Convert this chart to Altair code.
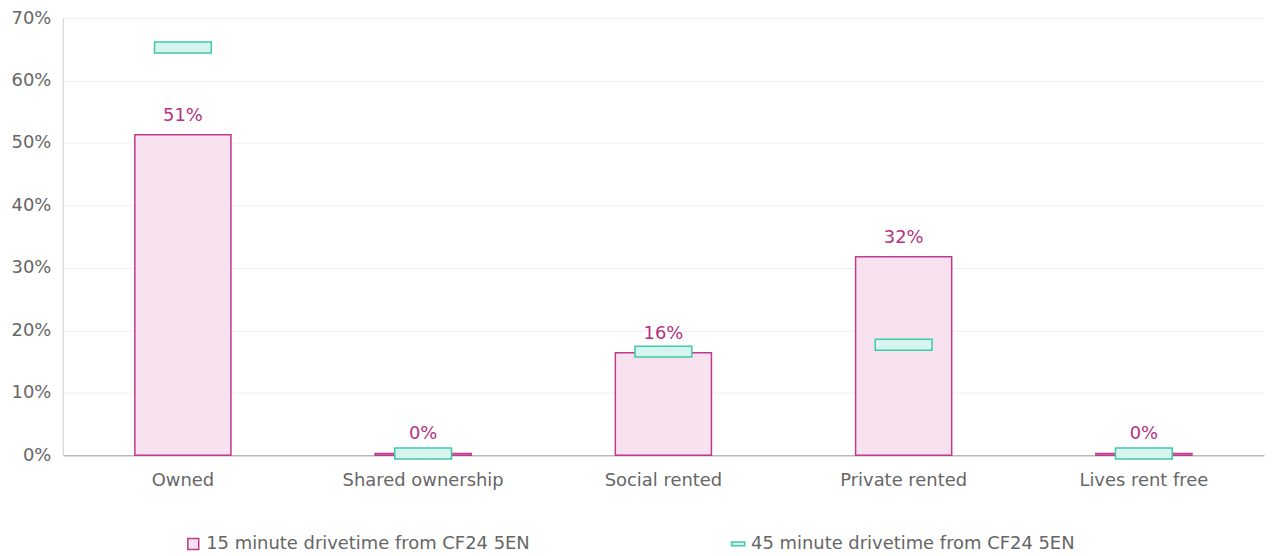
import altair as alt
import pandas as pd

categories = ["Owned", "Shared ownership", "Social rented", "Private rented", "Lives rent free"]
series_names = ["15 minute drivetime from CF24 5EN", "45 minute drivetime from CF24 5EN"]
drive15 = [0.513, 0.003, 0.164, 0.318, 0.003]
drive45 = [0.653, 0.003, 0.166, 0.177, 0.003]

FONT = "DejaVu Sans"
GREY = "#666666"
MAG = "#C0398C"
MAG_TXT = "#B5327F"
MAG_FILL = "#F8E2EF"
TEAL = "#3FC9AA"
TEAL_FILL = "#D6F5EE"

df15 = pd.DataFrame({"category": categories, "value": drive15, "series": series_names[0]})
df45 = pd.DataFrame({"category": categories, "value": drive45, "series": series_names[1]})
dfall = pd.concat([df15, df45], ignore_index=True)

x = alt.X("category:N", sort=categories, title=None,
          scale=alt.Scale(paddingInner=0, paddingOuter=0),
          axis=alt.Axis(labelAngle=0, labelFontSize=18, labelColor=GREY, labelFont=FONT,
                        ticks=False, domainColor="#a0a0a0", labelPadding=16, grid=False))
y = alt.Y("value:Q", title=None,
          scale=alt.Scale(domain=[0, 0.7]),
          axis=alt.Axis(format=".0%", values=[0, 0.1, 0.2, 0.3, 0.4, 0.5, 0.6, 0.7],
                        labelFontSize=18, labelColor=GREY, labelFont=FONT, ticks=False,
                        domainColor="#cfcfcf", gridColor="#f0f0f0", labelPadding=12))

bars = alt.Chart(df15).mark_bar(width={"band": 0.4}, fill=MAG_FILL, stroke=MAG,
                                strokeWidth=1.5).encode(x=x, y=y)

labels = alt.Chart(df15).mark_text(baseline="bottom", dy=-10, fontSize=18, font=FONT,
                                   color=MAG_TXT).encode(
    x=x, y=y, text=alt.Text("value:Q", format=".0%"))

markers = alt.Chart(df45).mark_tick(thickness=11, size=57, fill=TEAL_FILL, stroke=TEAL,
                                    strokeWidth=1.5, opacity=1).encode(x=x, y=y)

def make_legend():
    return alt.Legend(title=None, orient="none", direction="horizontal",
                      legendX=122, legendY=519, labelFontSize=18, labelLimit=600,
                      labelColor=GREY, labelFont=FONT, symbolSize=120,
                      columnPadding=198, labelOffset=4,
                      symbolStrokeWidth=1.5, symbolOpacity=1)

legend_layer = alt.Chart(dfall).mark_point(
    filled=True, strokeWidth=1.5, opacity=0, size=1).encode(
    x=x, y=y,
    shape=alt.Shape("series:N", scale=alt.Scale(domain=series_names,
                    range=["square", "M-1.2,-0.35H1.2V0.35H-1.2Z"]),
                    legend=make_legend()),
    fill=alt.Fill("series:N", scale=alt.Scale(domain=series_names, range=[MAG_FILL, TEAL_FILL]),
                  legend=make_legend()),
    stroke=alt.Stroke("series:N", scale=alt.Scale(domain=series_names, range=[MAG, TEAL]),
                      legend=make_legend()),
)

chart = alt.layer(bars, markers, labels, legend_layer).properties(
    width=1206, height=439,
    padding={"left": 2, "top": 0, "right": 2, "bottom": 0},
).configure(background="white").configure_view(stroke=None)

chart.save("out.html", embed_options={"renderer": "svg", "actions": False})
